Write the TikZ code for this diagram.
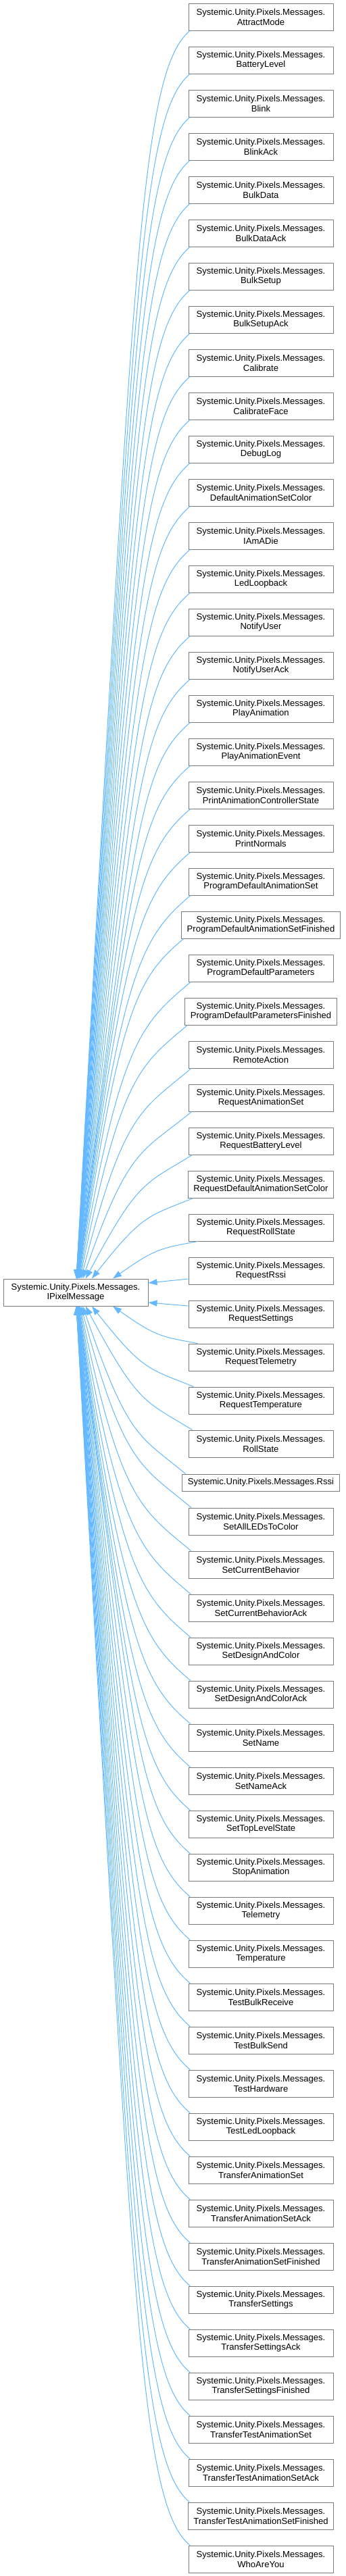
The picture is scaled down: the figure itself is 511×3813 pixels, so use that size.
\documentclass[tikz,border=0pt]{standalone}
\usepackage{fontspec}
\setmainfont{Liberation Sans}
\usetikzlibrary{arrows.meta,calc}
\definecolor{edgeblue}{HTML}{63B8FF}
\definecolor{boxgray}{HTML}{7A7A7A}
\tikzset{
  cls/.style={draw=boxgray, line width=0.75pt, fill=white, align=center,
    font=\fontsize{9.8pt}{11pt}\selectfont, minimum width=160.5pt,
    minimum height=30pt, inner xsep=6pt, inner ysep=1pt},
  inh/.style={draw=edgeblue, line width=0.75pt,
    -{Triangle[length=9.75pt,width=6.75pt]}}
}
\begin{document}
\begin{tikzpicture}[x=0.75pt,y=-0.75pt]
\useasboundingbox (0,0) rectangle (511,3813);
\node[cls] (L) at (112,1913) {Systemic.Unity.Pixels.Messages.\\IPixelMessage};
\foreach \nm [count=\i] in {AttractMode,BatteryLevel,Blink,BlinkAck,BulkData,BulkDataAck,BulkSetup,BulkSetupAck,Calibrate,CalibrateFace,DebugLog,DefaultAnimationSetColor,IAmADie,LedLoopback,NotifyUser,NotifyUserAck,PlayAnimation,PlayAnimationEvent,PrintAnimationControllerState,PrintNormals,ProgramDefaultAnimationSet,ProgramDefaultAnimationSetFinished,ProgramDefaultParameters,ProgramDefaultParametersFinished,RemoteAction,RequestAnimationSet,RequestBatteryLevel,RequestDefaultAnimationSetColor,RequestRollState,RequestRssi,RequestSettings,RequestTelemetry,RequestTemperature,RollState}{
  \node[cls] (r\i) at (386,{25+(\i-1)*64}) {Systemic.Unity.Pixels.Messages.\\\nm};
}
\node[cls, minimum height=18.75pt] (r35) at (386,2194.5) {Systemic.Unity.Pixels.Messages.Rssi};
\foreach \nm [count=\j] in {SetAllLEDsToColor,SetCurrentBehavior,SetCurrentBehaviorAck,SetDesignAndColor,SetDesignAndColorAck,SetName,SetNameAck,SetTopLevelState,StopAnimation,Telemetry,Temperature,TestBulkReceive,TestBulkSend,TestHardware,TestLedLoopback,TransferAnimationSet,TransferAnimationSetAck,TransferAnimationSetFinished,TransferSettings,TransferSettingsAck,TransferSettingsFinished,TransferTestAnimationSet,TransferTestAnimationSetAck,TransferTestAnimationSetFinished,WhoAreYou}{
  \pgfmathtruncatemacro\i{\j+35}
  \node[cls] (r\i) at (386,{2252+(\j-1)*64}) {Systemic.Unity.Pixels.Messages.\\\nm};
}
% edges from nodes above
\foreach \i in {1,...,29}{
  \pgfmathsetmacro\k{30-\i}
  \pgfmathsetmacro\xs{55/(\k^1.2)}
  \pgfmathsetmacro\eo{2+12/\k}
  \draw[inh] let \p1=($(L.north)+(\xs,0)$), \p2=($(r\i.south west)+(\eo,0)$),
    \n1={\y2-\y1}, \n2={\x2-\x1}, \n3={0.38*\n2*min(1,\n1/187.5)},
    \n4={min(0.5*\n2,0.1*\n1+112.5*exp(-\n1/150))} in
    (\p2) .. controls ({\x2-0.45*\n2},{\y2-\n3}) and ({\x1+\n4},{\y1+0.8*\n1}) .. (\p1);
}
% edges from nodes below
\foreach \i in {32,...,60}{
  \pgfmathsetmacro\k{\i-31}
  \pgfmathsetmacro\xs{55/(\k^1.2)}
  \pgfmathsetmacro\eo{2+12/\k}
  \draw[inh] let \p1=($(L.south)+(\xs,0)$), \p2=($(r\i.north west)+(\eo,0)$),
    \n1={\y1-\y2}, \n2={\x2-\x1}, \n3={0.38*\n2*min(1,\n1/187.5)},
    \n4={min(0.5*\n2,0.1*\n1+112.5*exp(-\n1/150))} in
    (\p2) .. controls ({\x2-0.45*\n2},{\y2+\n3}) and ({\x1+\n4},{\y1-0.8*\n1}) .. (\p1);
}
\draw[inh] ($(r30.west)+(0,12)$) -- ($(L.east)+(0,-14)$);
\draw[inh] ($(r31.west)+(0,-12)$) -- ($(L.east)+(0,15)$);
\end{tikzpicture}
\end{document}
